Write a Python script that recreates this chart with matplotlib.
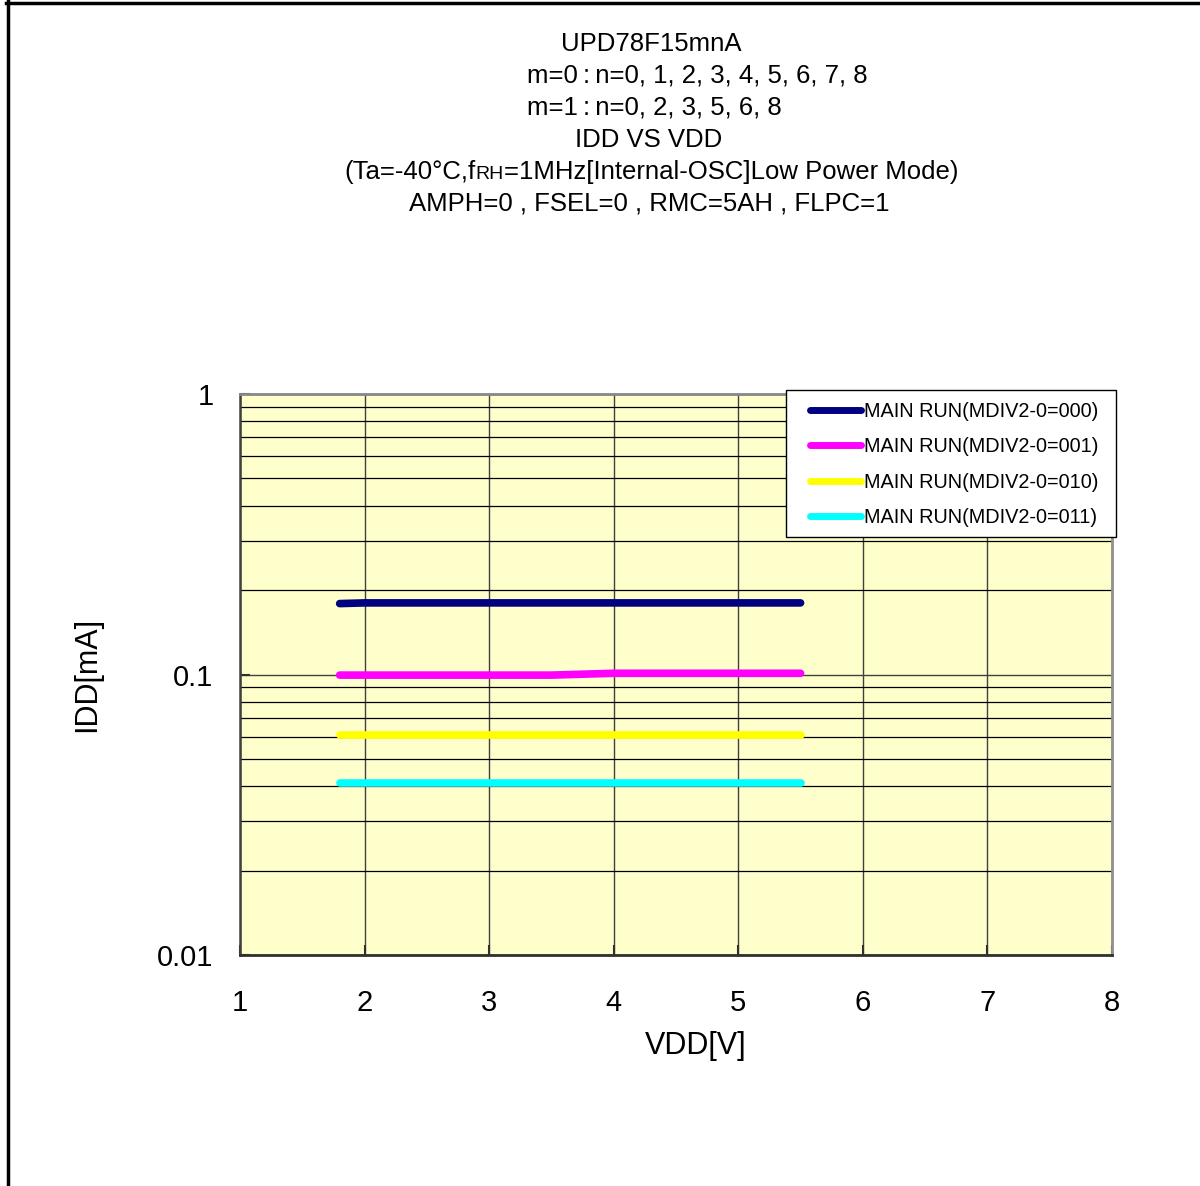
import matplotlib
matplotlib.use("Agg")
import matplotlib.pyplot as plt
from matplotlib.lines import Line2D
from matplotlib.patches import Rectangle
from matplotlib.offsetbox import TextArea, HPacker, AnchoredOffsetbox

plt.rcParams['font.family'] = ['Liberation Sans', 'DejaVu Sans']

# Supply voltage sweep [V]
vdd = [1.8, 2.0, 2.5, 3.0, 3.5, 4.0, 4.5, 5.0, 5.5]

# Supply current [mA] per main-clock divider setting
idd_000 = [0.179, 0.180, 0.180, 0.180, 0.180, 0.180, 0.180, 0.180, 0.180]
idd_001 = [0.0995, 0.0995, 0.0995, 0.0995, 0.0995, 0.101, 0.101, 0.101, 0.101]
idd_010 = [0.061, 0.061, 0.061, 0.061, 0.061, 0.061, 0.061, 0.061, 0.061]
idd_011 = [0.041, 0.041, 0.041, 0.041, 0.041, 0.041, 0.041, 0.041, 0.041]

series_labels = ["MAIN RUN(MDIV2-0=000)", "MAIN RUN(MDIV2-0=001)",
                 "MAIN RUN(MDIV2-0=010)", "MAIN RUN(MDIV2-0=011)"]
series_colors = ["#000080", "#FF00FF", "#FFFF00", "#00FFFF"]

x_ticks = [1, 2, 3, 4, 5, 6, 7, 8]
y_ticks = [0.01, 0.1, 1]
y_tick_labels = ["0.01", "0.1", "1"]

W, H = 1200, 1186
fig = plt.figure(figsize=(W / 100, H / 100), dpi=100)
ax = fig.add_axes([240 / W, 1 - 955 / H, 872 / W, 561 / H])
ax.set_facecolor("#FFFFCC")

for ys, lab, col in zip([idd_000, idd_001, idd_010, idd_011], series_labels, series_colors):
    ax.plot(vdd, ys, color=col, lw=5.5, solid_capstyle="round",
            solid_joinstyle="round", label=lab, zorder=3)

ax.set_yscale("log")
ax.set_xlim(1, 8)
ax.set_ylim(0.01, 1)
ax.set_xticks(x_ticks)
ax.set_xticklabels([str(v) for v in x_ticks])
ax.set_yticks(y_ticks)
ax.set_yticklabels(y_tick_labels)

ax.set_axisbelow(True)
ax.grid(which="major", axis="both", color="#404040", lw=1.0)
ax.grid(which="minor", axis="y", color="black", lw=0.9)

ax.tick_params(axis="both", which="major", direction="in", length=7,
               width=1.5, color="#303030", labelsize=21)
ax.tick_params(axis="y", which="major", pad=19)
ax.tick_params(axis="x", which="major", pad=24.5)
ax.tick_params(axis="both", which="minor", length=0)

ax.spines["left"].set_color("#404040")
ax.spines["left"].set_linewidth(1.8)
ax.spines["bottom"].set_color("#303030")
ax.spines["bottom"].set_linewidth(2.0)
ax.spines["top"].set_color("#888888")
ax.spines["top"].set_linewidth(2.0)
ax.spines["right"].set_color("#909090")
ax.spines["right"].set_linewidth(2.0)

ax.set_xlabel("VDD[V]", fontsize=22)
ax.xaxis.set_label_coords(0.523, -0.136)
ax.set_ylabel("IDD[mA]", fontsize=22)
ax.yaxis.set_label_coords(-0.158, 0.50)

# Legend box with a white, black-edged frame
lx0, ly0, lx1, ly1 = 786, 390, 1116, 537
ax.add_patch(Rectangle((lx0 / W, 1 - ly1 / H), (lx1 - lx0) / W, (ly1 - ly0) / H,
                       transform=fig.transFigure, facecolor="white",
                       edgecolor="black", lw=1.0, zorder=4, clip_on=False))
leg = ax.legend(loc="center",
                bbox_to_anchor=((lx0 + lx1) / 2 / W + 3 / W, 1 - (ly0 + ly1) / 2 / H - 1 / H),
                bbox_transform=fig.transFigure, borderaxespad=0,
                fontsize=14.3, handlelength=2.6, handletextpad=0.12,
                labelspacing=0.83, borderpad=0, frameon=False)
leg.set_zorder(5)
for h in leg.get_lines():
    h.set_linewidth(5)
    h.set_solid_capstyle("round")

# Title block
tsize = 18.5
fig.text(651 / W, 1 - 44 / H, "UPD78F15mnA", ha="center", va="center", fontsize=tsize)
fig.text(527 / W, 1 - 76 / H, "m=0\u2009:\u2009n=0, 1, 2, 3, 4, 5, 6, 7, 8", ha="left", va="center", fontsize=tsize)
fig.text(527 / W, 1 - 108 / H, "m=1\u2009:\u2009n=0, 2, 3, 5, 6, 8", ha="left", va="center", fontsize=tsize)
fig.text(649 / W, 1 - 140 / H, "IDD VS VDD", ha="center", va="center", fontsize=tsize)

cond = HPacker(children=[
    TextArea("(Ta=-40°C,f", textprops=dict(fontsize=tsize)),
    TextArea("RH", textprops=dict(fontsize=14)),
    TextArea("=1MHz[Internal-OSC]Low Power Mode)", textprops=dict(fontsize=tsize)),
], align="baseline", pad=0, sep=0)
fig.add_artist(AnchoredOffsetbox(loc="center", child=cond, pad=0, borderpad=0,
                                 frameon=False, bbox_to_anchor=(651 / W, 1 - 172 / H),
                                 bbox_transform=fig.transFigure))
fig.text(649 / W, 1 - 204 / H, "AMPH=0 , FSEL=0 , RMC=5AH , FLPC=1", ha="center", va="center", fontsize=tsize)

# Frame lines along the top and left edges
fig.add_artist(Line2D([6 / W, 1], [1 - 2.5 / H, 1 - 2.5 / H], transform=fig.transFigure,
                      color="black", lw=2.5))
fig.add_artist(Line2D([7.5 / W, 7.5 / W], [0, 1 - 1 / H], transform=fig.transFigure,
                      color="black", lw=2.5))

fig.savefig("out.png", dpi=100)
